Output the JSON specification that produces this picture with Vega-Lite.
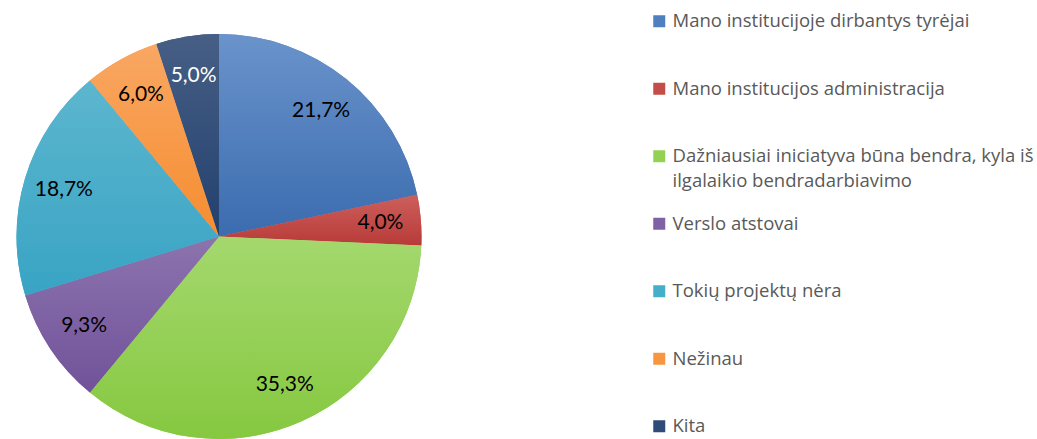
{
  "$schema": "https://vega.github.io/schema/vega-lite/v6.json",
  "autosize": {"type": "none"},
  "width": 438,
  "height": 405,
  "padding": {"left": 0, "top": 34, "right": 599, "bottom": 0},
  "background": "white",
  "config": {"style": {"guide-label": {"lineHeight": 25}}},
  "data": {
    "values": [
      {"category": "Mano institucijoje dirbantys tyrėjai", "value": 21.7, "idx": 1},
      {"category": "Mano institucijos administracija", "value": 4.0, "idx": 2},
      {"category": "Dažniausiai iniciatyva būna bendra, kyla iš ilgalaikio bendradarbiavimo", "value": 35.3, "idx": 3},
      {"category": "Verslo atstovai", "value": 9.3, "idx": 4},
      {"category": "Tokių projektų nėra", "value": 18.7, "idx": 5},
      {"category": "Nežinau", "value": 6.0, "idx": 6},
      {"category": "Kita", "value": 5.0, "idx": 7}
    ]
  },
  "transform": [
    {"calculate": "replace(format(datum.value, '.1f'), '.', ',') + '%'", "as": "label"}
  ],
  "encoding": {
    "theta": {"field": "value", "type": "quantitative", "stack": true},
    "order": {"field": "idx", "type": "quantitative"}
  },
  "layer": [
    {
      "mark": {"type": "arc", "stroke": null},
      "encoding": {
        "color": {
          "field": "category",
          "type": "nominal",
          "scale": {
            "domain": [
              "Mano institucijoje dirbantys tyrėjai",
              "Mano institucijos administracija",
              "Dažniausiai iniciatyva būna bendra, kyla iš ilgalaikio bendradarbiavimo",
              "Verslo atstovai",
              "Tokių projektų nėra",
              "Nežinau",
              "Kita"
            ],
            "range": ["#4F7FBE", "#C44C49", "#93D155", "#7F62A4", "#47AECA", "#F7963F", "#2F4B78"]
          },
          "legend": {
            "title": null,
            "orient": "none",
            "legendX": 650,
            "legendY": -22,
            "gridAlign": "all",
            "symbolType": "square",
            "symbolSize": 144,
            "symbolStrokeWidth": 0,
            "labelFont": "Open Sans",
            "labelFontSize": 18.5,
            "labelColor": "#595959",
            "labelLimit": 500,
            "labelOffset": 4,
            "rowPadding": 23.5,
            "labelExpr": "datum.label == 'Dažniausiai iniciatyva būna bendra, kyla iš ilgalaikio bendradarbiavimo' ? ['Dažniausiai iniciatyva būna bendra, kyla iš', 'ilgalaikio bendradarbiavimo'] : datum.label",
            "encode": {"labels": {"update": {"lineHeight": {"value": 25}}}}
          }
        }
      }
    },
    {
      "mark": {"type": "arc", "stroke": null},
      "encoding": {
        "color": {
          "condition": [
            {"test": "datum.idx == 1", "value": {"gradient": "linear", "x1": 0, "y1": 0, "x2": 0, "y2": 1, "stops": [{"offset": 0, "color": "#6A93CB"}, {"offset": 1, "color": "#3B6CAF"}]}},
            {"test": "datum.idx == 2", "value": {"gradient": "linear", "x1": 0, "y1": 0, "x2": 0, "y2": 1, "stops": [{"offset": 0, "color": "#CD5F5C"}, {"offset": 1, "color": "#B83B38"}]}},
            {"test": "datum.idx == 3", "value": {"gradient": "linear", "x1": 0, "y1": 0, "x2": 0, "y2": 1, "stops": [{"offset": 0, "color": "#A4D86E"}, {"offset": 1, "color": "#86C840"}]}},
            {"test": "datum.idx == 4", "value": {"gradient": "linear", "x1": 0, "y1": 0, "x2": 0, "y2": 1, "stops": [{"offset": 0, "color": "#8C74AE"}, {"offset": 1, "color": "#71529A"}]}},
            {"test": "datum.idx == 5", "value": {"gradient": "linear", "x1": 0, "y1": 0, "x2": 0, "y2": 1, "stops": [{"offset": 0, "color": "#5DB6CE"}, {"offset": 1, "color": "#38A4C4"}]}},
            {"test": "datum.idx == 6", "value": {"gradient": "linear", "x1": 0, "y1": 0, "x2": 0, "y2": 1, "stops": [{"offset": 0, "color": "#F9A763"}, {"offset": 1, "color": "#F68D30"}]}}
          ],
          "value": {"gradient": "linear", "x1": 0, "y1": 0, "x2": 0, "y2": 1, "stops": [{"offset": 0, "color": "#475F85"}, {"offset": 1, "color": "#22406E"}]}
        }
      }
    },
    {
      "mark": {"type": "text", "radius": 162, "font": "Lato", "fontSize": 21},
      "encoding": {
        "text": {"field": "label", "type": "nominal"},
        "color": {
          "condition": {"test": "datum.idx == 7", "value": "white"},
          "value": "black"
        }
      }
    }
  ]
}
